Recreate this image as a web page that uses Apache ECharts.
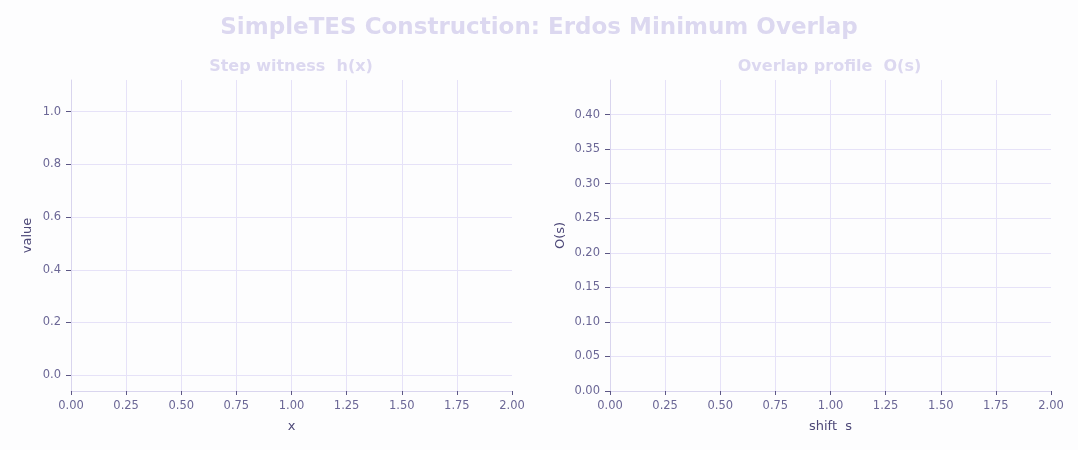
<!DOCTYPE html>
<html>
<head>
<meta charset="utf-8">
<script src="https://cdn.jsdelivr.net/npm/echarts@6/dist/echarts.min.js"></script>
<style>
html,body{margin:0;padding:0;background:#fdfdfe;}
#chart{width:1078px;height:450px;}
</style>
</head>
<body>
<div id="chart"></div>
<script>
// Data (the reference shows empty plots: no marks drawn)
const stepX = [];
const stepH = [];
const shiftS = [];
const overlapO = [];

// Tick labels
const xTicks = [0, 0.25, 0.5, 0.75, 1.0, 1.25, 1.5, 1.75, 2.0];
const hTicks = [0, 0.2, 0.4, 0.6, 0.8, 1.0];
const oTicks = [0, 0.05, 0.10, 0.15, 0.20, 0.25, 0.30, 0.35, 0.40];

const titleText = 'SimpleTES Construction: Erdos Minimum Overlap';
const leftTitle = 'Step witness  h(x)';
const rightTitle = 'Overlap profile  O(s)';

const FONT = 'DejaVu Sans';
const labelColor = '#6b6796';
const nameColor = '#4d4878';
const tickColor = '#5c5785';
const axisLineColor = '#d9d5ee';
const gridColor = '#e6e2f8';
const titleColor = '#dcd8f0';

function xAxisCfg(gridIndex, name) {
  return {
    type: 'value', gridIndex, min: 0, max: 2, interval: 0.25,
    name, nameLocation: 'middle', nameGap: 29,
    nameTextStyle: { color: nameColor, fontFamily: FONT, fontSize: 13 },
    axisLine: { show: true, onZero: false, lineStyle: { color: axisLineColor, width: 1 } },
    axisTick: { show: true, length: 4, lineStyle: { color: tickColor } },
    axisLabel: { color: labelColor, fontFamily: FONT, fontSize: 11.5, margin: 9,
      formatter: v => v.toFixed(2) },
    splitLine: { show: true, showMinLine: false, showMaxLine: false, lineStyle: { color: gridColor, width: 1 } }
  };
}

const chart = echarts.init(document.getElementById('chart'), null, { renderer: 'canvas' });
chart.setOption({
  backgroundColor: '#fdfdfe',
  animation: false,
  title: [
    { text: titleText, left: 'center', top: 12,
      textStyle: { color: titleColor, fontFamily: FONT, fontSize: 23, fontWeight: 'bold' } },
    { text: leftTitle, left: 286, top: 54, textAlign: 'center',
      textStyle: { color: titleColor, fontFamily: FONT, fontSize: 16, fontWeight: 'bold' } },
    { text: rightTitle, left: 824.5, top: 54, textAlign: 'center',
      textStyle: { color: titleColor, fontFamily: FONT, fontSize: 16, fontWeight: 'bold' } }
  ],
  grid: [
    { left: 71, right: 566, top: 80, bottom: 59, containLabel: false },
    { left: 610, right: 27, top: 80, bottom: 59, containLabel: false }
  ],
  xAxis: [xAxisCfg(0, 'x'), xAxisCfg(1, 'shift  s')],
  yAxis: [
    {
      type: 'value', gridIndex: 0, min: -0.06, max: 1.12, splitNumber: 5,
      name: 'value', nameLocation: 'middle', nameGap: 37,
      nameTextStyle: { color: nameColor, fontFamily: FONT, fontSize: 13 },
      axisLine: { show: true, lineStyle: { color: axisLineColor, width: 1 } },
      axisTick: { show: true, length: 5, customValues: hTicks, lineStyle: { color: tickColor } },
      axisLabel: { color: labelColor, fontFamily: FONT, fontSize: 11.5, margin: 10,
        customValues: hTicks, formatter: v => v.toFixed(1) },
      splitLine: { show: true, showMinLine: true, showMaxLine: true, lineStyle: { color: gridColor, width: 1 } }
    },
    {
      type: 'value', gridIndex: 1, min: 0, max: 0.45, interval: 0.05,
      name: 'O(s)', nameLocation: 'middle', nameGap: 43,
      nameTextStyle: { color: nameColor, fontFamily: FONT, fontSize: 13 },
      axisLine: { show: true, lineStyle: { color: axisLineColor, width: 1 } },
      axisTick: { show: true, length: 5, customValues: oTicks, lineStyle: { color: tickColor } },
      axisLabel: { color: labelColor, fontFamily: FONT, fontSize: 11.5, margin: 10,
        customValues: oTicks, formatter: v => v.toFixed(2) },
      splitLine: { show: true, showMinLine: false, showMaxLine: true, lineStyle: { color: gridColor, width: 1 } }
    }
  ],
  series: [
    { type: 'line', xAxisIndex: 0, yAxisIndex: 0, step: 'end', showSymbol: false,
      data: stepX.map((x, i) => [x, stepH[i]]) },
    { type: 'line', xAxisIndex: 1, yAxisIndex: 1, showSymbol: false,
      data: shiftS.map((s, i) => [s, overlapO[i]]) }
  ]
});
</script>
</body>
</html>
